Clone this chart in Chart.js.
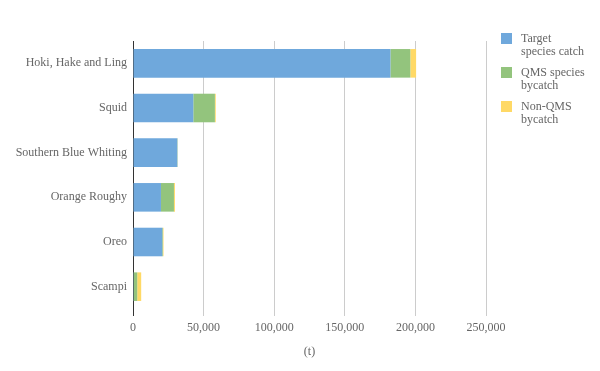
<!DOCTYPE html>
<html>
<head>
<meta charset="utf-8">
<script src="https://cdn.jsdelivr.net/npm/chart.js@4"></script>
<style>
  body { margin: 0; background: #fff; }
  #wrap { position: relative; width: 600px; height: 371px; }
  #legend { position: absolute; left: 501px; top: 32px; font-family: "Liberation Serif", "Times New Roman", "DejaVu Serif", serif; font-size: 12px; color: #666; line-height: 12.5px; }
  .item { position: relative; height: 34px; }
  .box { position: absolute; left: 0; top: 1px; width: 11px; height: 11px; }
  .txt { position: absolute; left: 20px; top: 0; white-space: nowrap; }
</style>
</head>
<body>
<div id="wrap">
  <canvas id="chart" width="600" height="371"></canvas>
  <div id="legend"></div>
</div>
<script>
const fisheries = ["Hoki, Hake and Ling", "Squid", "Southern Blue Whiting", "Orange Roughy", "Oreo", "Scampi"];
const targetCatch = [182300, 42700, 31400, 19800, 20700, 500];
const qmsBycatch = [14100, 15300, 200, 9200, 500, 2500];
const nonQmsBycatch = [4100, 600, 100, 700, 400, 2800];
const xTicks = [0, 50000, 100000, 150000, 200000, 250000];

const seriesNames = [["Target", "species catch"], ["QMS species", "bycatch"], ["Non-QMS", "bycatch"]];
const seriesColors = ["#6fa8dc", "#93c47d", "#ffd966"];

const font = { family: "'Liberation Serif', 'Times New Roman', 'DejaVu Serif', serif", size: 12 };

const ctx = document.getElementById("chart");
new Chart(ctx, {
  type: "bar",
  data: {
    labels: fisheries,
    datasets: [targetCatch, qmsBycatch, nonQmsBycatch].map((d, i) => ({
      label: seriesNames[i].join(" "),
      data: d,
      backgroundColor: seriesColors[i],
      barPercentage: 0.64,
      categoryPercentage: 1,
    })),
  },
  options: {
    indexAxis: "y",
    responsive: false,
    animation: false,
    layout: { padding: { top: 41, right: 114, bottom: 8, left: 0 } },
    plugins: { legend: { display: false }, tooltip: { enabled: false } },
    scales: {
      x: {
        stacked: true,
        min: 0,
        max: 250000,
        afterBuildTicks: (axis) => { axis.ticks = xTicks.map((v) => ({ value: v })); },
        afterFit: (axis) => { axis.height = 54; },
        border: { display: false },
        grid: {
          color: (c) => (c.index === 0 ? "#333" : "#ccc"),
          tickLength: 7,
        },
        ticks: {
          font: font,
          color: "#666",
          padding: 5,
          callback: (v) => v.toLocaleString("en-US"),
        },
        title: { display: true, text: "(t)", font: font, color: "#666", padding: { top: 8 } },
      },
      y: {
        stacked: true,
        afterFit: (axis) => { axis.width = 133; },
        border: { display: false },
        grid: { display: false, drawTicks: false },
        ticks: { font: font, color: "#666", padding: 6 },
      },
    },
  },
});

const legendEl = document.getElementById("legend");
seriesNames.forEach((name, i) => {
  const item = document.createElement("div");
  item.className = "item";
  item.innerHTML = `<span class="box" style="background:${seriesColors[i]}"></span><span class="txt">${name.join("<br>")}</span>`;
  legendEl.appendChild(item);
});
</script>
</body>
</html>
